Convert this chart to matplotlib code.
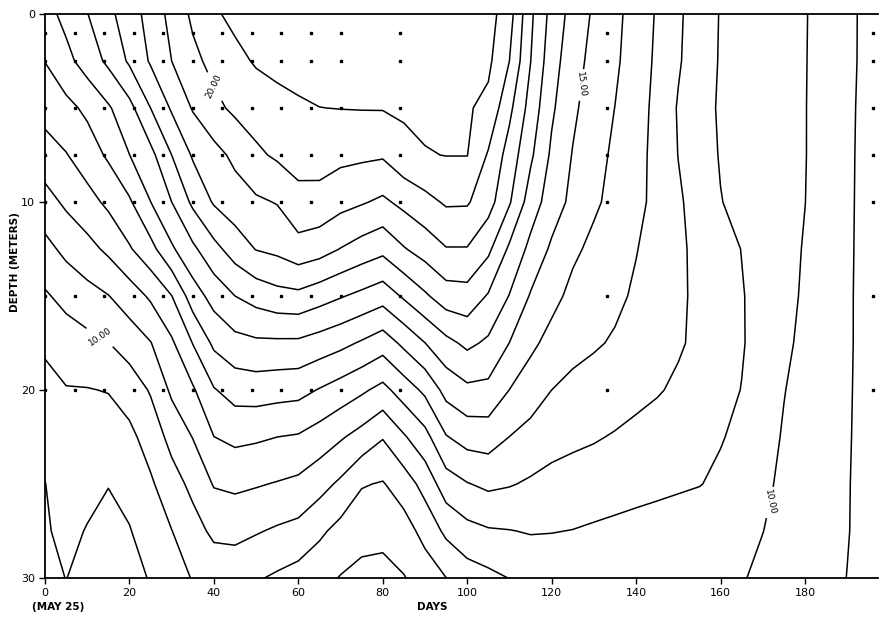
import matplotlib
matplotlib.use("Agg")
import matplotlib.pyplot as plt
import numpy as np

# Days since May 25 (grid columns) and depths in metres (grid rows)
days = list(range(0, 201, 5))
depths = [0, 2.5, 5, 7.5, 10, 12.5, 15, 17.5, 20, 22.5, 25, 27.5, 30]

# Temperature (deg C) profiles, one list per day, top (0 m) to bottom (30 m)
temp_by_day = [
    [14.62, 14.02, 13.36, 12.56, 11.62, 10.70, 9.88, 9.15, 8.71, 8.34, 7.98, 7.90, 7.82],   # 0
    [15.30, 14.70, 13.73, 12.95, 12.18, 11.25, 10.30, 9.50, 8.95, 8.71, 8.53, 8.24, 8.01],  # 5
    [15.97, 15.45, 14.20, 13.50, 12.66, 11.68, 10.65, 9.72, 8.96, 8.62, 8.27, 7.95, 7.80],  # 10
    [16.75, 16.20, 14.88, 14.15, 13.20, 12.20, 10.97, 9.98, 9.04, 8.52, 8.02, 7.80, 7.55],  # 15
    [17.53, 17.15, 15.70, 14.99, 13.87, 12.90, 11.50, 10.45, 9.44, 8.76, 8.31, 7.95, 7.75], # 20
    [18.37, 18.11, 17.00, 15.71, 14.99, 13.68, 12.15, 10.96, 10.09, 9.42, 8.86, 8.45, 8.05],# 25
    [19.31, 19.00, 18.12, 17.00, 16.00, 14.85, 12.98, 11.85, 11.18, 10.31, 9.59, 8.98, 8.60],  # 30
    [20.19, 19.75, 19.08, 18.11, 17.20, 15.80, 14.50, 13.03, 11.87, 11.03, 10.25, 9.62, 9.05], # 35
    [20.86, 20.29, 19.75, 18.67, 18.10, 16.70, 15.38, 14.20, 12.93, 11.99, 11.07, 10.21, 9.35],# 40
    [21.25, 20.73, 20.20, 19.22, 18.55, 17.45, 16.00, 14.68, 13.40, 12.23, 11.20, 10.26, 9.40],# 45
    [21.50, 21.10, 20.45, 19.82, 18.85, 18.04, 16.38, 14.83, 13.47, 12.14, 11.08, 10.08, 9.10],# 50
    [21.70, 21.26, 20.70, 20.15, 19.05, 18.23, 16.67, 14.83, 13.38, 12.00, 10.94, 9.87, 8.85], # 55
    [21.80, 21.36, 20.87, 20.36, 19.70, 18.63, 16.75, 14.82, 13.31, 11.91, 10.78, 9.70, 8.60], # 60
    [21.85, 21.43, 20.99, 20.39, 19.67, 18.41, 16.42, 14.56, 12.94, 11.55, 10.36, 9.19, 8.30], # 65
    [21.90, 21.46, 21.02, 20.25, 19.32, 17.97, 16.08, 14.27, 12.56, 11.11, 9.82, 8.68, 7.95],  # 70
    [21.90, 21.47, 21.04, 20.18, 19.09, 17.59, 15.76, 13.89, 12.16, 10.64, 9.07, 8.37, 7.70],  # 75
    [21.85, 21.45, 21.05, 20.11, 18.82, 17.27, 15.42, 13.46, 11.71, 10.06, 8.93, 8.30, 7.65],  # 80
    [21.80, 21.47, 21.14, 20.70, 19.26, 17.93, 16.14, 14.23, 12.47, 10.89, 9.50, 8.57, 7.95],  # 85
    [21.70, 21.45, 21.20, 20.95, 19.70, 18.42, 16.85, 14.99, 13.21, 11.67, 10.35, 9.33, 8.45], # 90
    [21.50, 21.34, 21.18, 21.02, 20.12, 18.95, 17.53, 15.72, 14.33, 12.94, 11.53, 10.21, 8.99],# 95
    [21.30, 21.20, 21.10, 21.02, 20.10, 18.95, 17.61, 16.22, 14.78, 13.39, 11.95, 10.70, 9.50],# 100
    [21.40, 21.20, 20.75, 19.90, 19.40, 18.21, 16.91, 15.83, 14.74, 13.45, 12.20, 10.91, 9.75],# 105
    [20.40, 20.00, 19.24, 18.58, 18.10, 16.83, 15.96, 14.99, 13.99, 12.99, 12.07, 10.97, 10.02],# 110
    [18.20, 18.02, 17.61, 17.18, 16.53, 15.73, 14.92, 14.22, 13.47, 12.68, 11.87, 11.06, 10.30],# 115
    [16.67, 16.42, 16.16, 15.83, 15.50, 14.84, 14.29, 13.68, 13.00, 12.36, 11.70, 11.03, 10.40],# 120
    [15.63, 15.41, 15.19, 14.95, 14.75, 14.18, 13.75, 13.28, 12.77, 12.20, 11.60, 10.98, 10.50],# 125
    [14.86, 14.68, 14.50, 14.32, 14.15, 13.78, 13.48, 13.12, 12.55, 12.08, 11.52, 10.88, 10.60],# 130
    [14.25, 14.16, 13.99, 13.84, 13.73, 13.41, 13.21, 12.89, 12.45, 11.93, 11.49, 10.75, 10.60],# 135
    [13.59, 13.51, 13.41, 13.32, 13.26, 13.04, 12.86, 12.63, 12.26, 11.76, 11.37, 10.64, 10.55],# 140
    [12.90, 12.83, 12.74, 12.71, 12.73, 12.61, 12.52, 12.37, 12.08, 11.59, 11.26, 10.54, 10.50],# 145
    [12.15, 12.10, 11.92, 11.98, 12.14, 12.17, 12.17, 12.11, 11.84, 11.41, 11.15, 10.43, 10.45],# 150
    [11.51, 11.45, 11.33, 11.42, 11.58, 11.76, 11.79, 11.79, 11.56, 11.24, 11.04, 10.33, 10.35],# 155
    [10.95, 10.93, 10.90, 10.94, 11.03, 11.37, 11.44, 11.43, 11.27, 11.07, 10.79, 10.22, 10.20],# 160
    [10.73, 10.71, 10.68, 10.71, 10.76, 10.98, 11.06, 11.07, 10.98, 10.75, 10.47, 10.12, 10.05],# 165
    [10.50, 10.48, 10.47, 10.48, 10.51, 10.64, 10.65, 10.64, 10.50, 10.32, 10.15, 10.01, 9.85], # 170
    [10.27, 10.26, 10.25, 10.26, 10.26, 10.29, 10.27, 10.18, 10.03, 9.93, 9.86, 9.78, 9.64],    # 175
    [10.05, 10.04, 10.03, 10.03, 10.01, 9.94, 9.88, 9.79, 9.70, 9.64, 9.59, 9.53, 9.43],        # 180
    [9.65, 9.63, 9.62, 9.61, 9.58, 9.53, 9.50, 9.44, 9.39, 9.35, 9.32, 9.28, 9.21],             # 185
    [9.21, 9.20, 9.18, 9.16, 9.15, 9.13, 9.11, 9.10, 9.08, 9.06, 9.04, 9.03, 8.99],             # 190
    [8.77, 8.77, 8.73, 8.72, 8.71, 8.72, 8.73, 8.75, 8.76, 8.77, 8.77, 8.78, 8.78],             # 195
    [8.33, 8.33, 8.30, 8.28, 8.28, 8.30, 8.35, 8.40, 8.45, 8.48, 8.50, 8.52, 8.57],             # 200
]

contour_levels = list(range(8, 22))
# labelled isotherms and where their labels sit (day, depth)
labelled = {20: [(39, 4.0)], 15: [(128, 3.8)], 10: [(13, 17.2), (172, 26.0)]}

# Sampling stations (dots)
sample_days = [0, 7, 14, 21, 28, 35, 42, 49, 56, 63, 70, 84, 133, 196]
sample_depths = [1, 2.5, 5, 7.5, 10, 15, 20]

x_ticks = [0, 20, 40, 60, 80, 100, 120, 140, 160, 180]
y_ticks = [0, 10, 20, 30]

W, H = 885, 619
fig = plt.figure(figsize=(W / 100, H / 100), dpi=100)
ax = fig.add_axes([45 / W, 1 - 578 / H, 833 / W, 564 / H])

T = np.array(temp_by_day).T
plain = [l for l in contour_levels if l not in labelled]
ax.contour(days, depths, T, levels=plain, colors="black", linewidths=1.1)
for lvl, spots in labelled.items():
    c = ax.contour(days, depths, T, levels=[lvl], colors="black",
                   linewidths=1.1)
    ax.clabel(c, fmt="%.2f", fontsize=6.5, manual=spots, inline=True,
              inline_spacing=3)

sd, sz = np.meshgrid(sample_days, sample_depths)
ax.plot(sd.ravel(), sz.ravel(), linestyle="none", marker="s",
        markersize=1.6, color="black")

ax.set_xlim(0, 197.3)
ax.set_ylim(30, 0)
ax.set_xticks(x_ticks)
ax.set_xticklabels([str(v) for v in x_ticks])
ax.set_yticks(y_ticks)
ax.set_yticklabels([str(v) for v in y_ticks])
ax.tick_params(direction="out", length=4, width=1, labelsize=8, pad=3)
ax.spines["right"].set_visible(False)
for s in ("left", "bottom", "top"):
    ax.spines[s].set_linewidth(1.3)

fig.text(15 / W, 1 - 262 / H, "DEPTH (METERS)", rotation=90, ha="center",
         va="center", fontsize=7.5, fontweight="bold")
fig.text(432 / W, 1 - 607 / H, "DAYS", ha="center", va="center",
         fontsize=7.5, fontweight="bold")
fig.text(58 / W, 1 - 607 / H, "(MAY 25)", ha="center", va="center",
         fontsize=7.5, fontweight="bold")

fig.savefig("out.png", dpi=100)
